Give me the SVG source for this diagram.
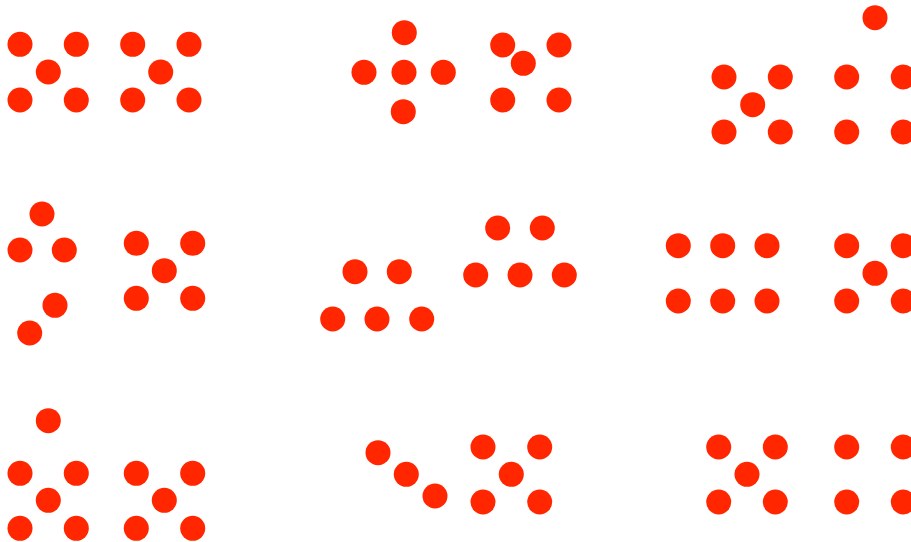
<svg xmlns="http://www.w3.org/2000/svg" width="911" height="542" viewBox="0 0 911 542">
<style>
.d{fill:#ff2600;}
</style>
<rect width="911" height="542" fill="#ffffff"/>
<g id="a1" class="d"><circle cx="20" cy="44.3" r="12.5"/><circle cx="76.3" cy="44.3" r="12.5"/><circle cx="48.3" cy="72" r="12.5"/><circle cx="20" cy="100" r="12.5"/><circle cx="76.3" cy="100" r="12.5"/></g>
<g id="a2" class="d"><circle cx="132.7" cy="44.3" r="12.5"/><circle cx="189" cy="44.3" r="12.5"/><circle cx="160.7" cy="72" r="12.5"/><circle cx="132.7" cy="100" r="12.5"/><circle cx="189" cy="100" r="12.5"/></g>
<g id="b1" class="d"><circle cx="404.3" cy="32.7" r="12.5"/><circle cx="364" cy="72.3" r="12.5"/><circle cx="404" cy="72.3" r="12.5"/><circle cx="443.3" cy="72.3" r="12.5"/><circle cx="403.3" cy="111.7" r="12.5"/></g>
<g id="b2" class="d"><circle cx="502.7" cy="45" r="12.5"/><circle cx="559" cy="45" r="12.5"/><circle cx="523.3" cy="63.3" r="12.5"/><circle cx="502.7" cy="100" r="12.5"/><circle cx="559" cy="100" r="12.5"/></g>
<g id="c1" class="d"><circle cx="724" cy="77" r="12.5"/><circle cx="780.3" cy="77" r="12.5"/><circle cx="752.7" cy="104.7" r="12.5"/><circle cx="724" cy="132" r="12.5"/><circle cx="780.3" cy="132" r="12.5"/></g>
<g id="c2" class="d"><circle cx="875" cy="17.7" r="12.5"/><circle cx="846.7" cy="77" r="12.5"/><circle cx="903.3" cy="77" r="12.5"/><circle cx="846.7" cy="132" r="12.5"/><circle cx="903.3" cy="132" r="12.5"/></g>
<g id="d1" class="d"><circle cx="42" cy="214" r="12.5"/><circle cx="20" cy="250" r="12.5"/><circle cx="64.3" cy="250" r="12.5"/><circle cx="55" cy="305.3" r="12.5"/><circle cx="29.7" cy="333" r="12.5"/></g>
<g id="d2" class="d"><circle cx="136.3" cy="243.3" r="12.5"/><circle cx="192.7" cy="243.3" r="12.5"/><circle cx="164.3" cy="270.7" r="12.5"/><circle cx="136.3" cy="298.3" r="12.5"/><circle cx="192.7" cy="298.3" r="12.5"/></g>
<g id="e1" class="d"><circle cx="355" cy="271.7" r="12.5"/><circle cx="399.3" cy="271.7" r="12.5"/><circle cx="332.7" cy="319" r="12.5"/><circle cx="377" cy="319" r="12.5"/><circle cx="421.7" cy="319" r="12.5"/></g>
<g id="e2" class="d"><circle cx="497.7" cy="228" r="12.5"/><circle cx="542.3" cy="228" r="12.5"/><circle cx="475.7" cy="275" r="12.5"/><circle cx="520" cy="275" r="12.5"/><circle cx="564.3" cy="275" r="12.5"/></g>
<g id="f1" class="d"><circle cx="678.3" cy="245.7" r="12.5"/><circle cx="722.7" cy="245.7" r="12.5"/><circle cx="767" cy="245.7" r="12.5"/><circle cx="678.3" cy="301" r="12.5"/><circle cx="722.7" cy="301" r="12.5"/><circle cx="767" cy="301" r="12.5"/></g>
<g id="f2" class="d"><circle cx="846.7" cy="245.7" r="12.5"/><circle cx="903.3" cy="245.7" r="12.5"/><circle cx="875" cy="273.3" r="12.5"/><circle cx="846.7" cy="301" r="12.5"/><circle cx="903.3" cy="301" r="12.5"/></g>
<g id="g1" class="d"><circle cx="48.3" cy="420.7" r="12.5"/><circle cx="20" cy="473.3" r="12.5"/><circle cx="76.3" cy="473.3" r="12.5"/><circle cx="48.3" cy="500.3" r="12.5"/><circle cx="20" cy="528.3" r="12.5"/><circle cx="76.3" cy="528.3" r="12.5"/></g>
<g id="g2" class="d"><circle cx="136.3" cy="473.3" r="12.5"/><circle cx="192.7" cy="473.3" r="12.5"/><circle cx="164.3" cy="500.3" r="12.5"/><circle cx="136.3" cy="528.3" r="12.5"/><circle cx="192.7" cy="528.3" r="12.5"/></g>
<g id="h1" class="d"><circle cx="378" cy="452.7" r="12.5"/><circle cx="406.3" cy="474.3" r="12.5"/><circle cx="435" cy="496" r="12.5"/></g>
<g id="h2" class="d"><circle cx="483" cy="447" r="12.5"/><circle cx="539.7" cy="447" r="12.5"/><circle cx="511.3" cy="474.3" r="12.5"/><circle cx="483" cy="502" r="12.5"/><circle cx="539.7" cy="502" r="12.5"/></g>
<g id="i1" class="d"><circle cx="718.7" cy="447" r="12.5"/><circle cx="775.3" cy="447" r="12.5"/><circle cx="747" cy="474.3" r="12.5"/><circle cx="718.7" cy="502" r="12.5"/><circle cx="775.3" cy="502" r="12.5"/></g>
<g id="i2" class="d"><circle cx="846.7" cy="447" r="12.5"/><circle cx="903.3" cy="447" r="12.5"/><circle cx="846.7" cy="502" r="12.5"/><circle cx="903.3" cy="502" r="12.5"/></g>
</svg>
